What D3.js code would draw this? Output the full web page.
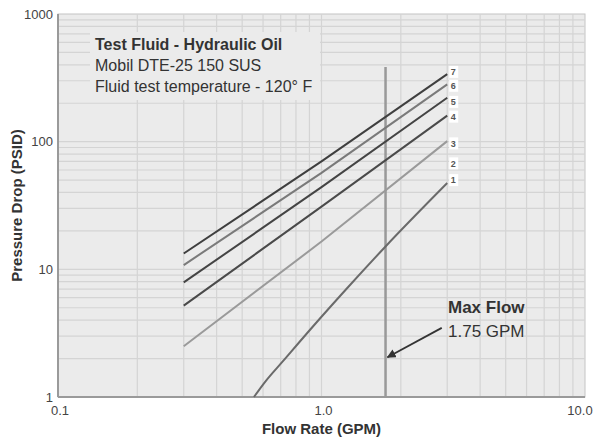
<!DOCTYPE html>
<html>
<head>
<meta charset="utf-8">
<script src="https://cdn.jsdelivr.net/npm/d3@7"></script>
<style>
body { margin: 0; background: #fff; }
svg { display: block; font-family: "Liberation Sans", Arial, sans-serif; }
</style>
</head>
<body>
<div id="chart"></div>
<script>
// curves 3..7 are straight in log-log, read at the end points (and one middle point)
const flow37 = [0.3, 1.0, 3.0];
const curve7 = [13.3, 70, 338];
const curve6 = [10.8, 57, 281];
const curve5 = [7.9, 44, 221];
const curve4 = [5.2, 31, 160];
const curve3 = [2.5, 16.5, 101];

// curve 1 bends, read point by point
const flow1 = [0.554, 0.610, 0.714, 0.953, 1.283, 1.75, 3.0];
const curve1 = [1.0, 1.31, 1.91, 3.80, 7.54, 15.1, 47.4];

const curveNames = ["7", "6", "5", "4", "3", "1"];
const curveColors = ["#3f3f3f", "#7a7a7a", "#444", "#4a4a4a", "#9a9a9a", "#6a6a6a"];

// small number tags at the right end
const tagNames = ["7", "6", "5", "4", "3", "2", "1"];
const tagValues = [352, 274, 205, 157, 97, 67.6, 50];

const xTicks = [0.1, 1, 10];
const xTickLabels = ["0.1", "1.0", "10.0"];
const yTicks = [1, 10, 100, 1000];
const yTickLabels = ["1", "10", "100", "1000"];

const maxFlow = 1.75;
const maxFlowTop = 385;
const arrowFrom = [2.86, 3.48];
const arrowTo = [1.78, 2.05];

const noteLines = ["Test Fluid - Hydraulic Oil", "Mobil DTE-25 150 SUS", "Fluid test temperature - 120\u00b0 F"];

const margin = {top: 14, right: 20, bottom: 43, left: 58},
    width = 605 - margin.left - margin.right,
    height = 440 - margin.top - margin.bottom;

const svg = d3.select("#chart")
    .append("svg")
    .attr("width", 605)
    .attr("height", 440);

const g = svg.append("g")
    .attr("transform", "translate(" + margin.left + "," + margin.top + ")");

const x = d3.scaleLog().domain([0.1, 10]).range([0, width]);
const y = d3.scaleLog().domain([1, 1000]).range([height, 0]);

g.append("rect")
    .attr("width", width)
    .attr("height", height)
    .style("fill", "#ebebeb")
    .style("stroke", "#c4c4c4");

// log grid
const xGrid = x.ticks(20).filter(d => d > 0.1 && d < 10);
const yGrid = y.ticks(30).filter(d => d > 1 && d < 1000);

g.selectAll(".vgrid")
    .data(xGrid)
    .enter().append("line")
    .attr("x1", d => x(d)).attr("x2", d => x(d))
    .attr("y1", 0).attr("y2", height)
    .style("stroke", "#d4d4d4")
    .style("stroke-width", 1.2);

g.selectAll(".hgrid")
    .data(yGrid)
    .enter().append("line")
    .attr("x1", 0).attr("x2", width)
    .attr("y1", d => y(d)).attr("y2", d => y(d))
    .style("stroke", "#d4d4d4")
    .style("stroke-width", 1.2);

// axis lines
g.append("line")
    .attr("x1", 0).attr("x2", 0).attr("y1", 0).attr("y2", height)
    .style("stroke", "#9a9a9a").style("stroke-width", 2);
g.append("line")
    .attr("x1", 0).attr("x2", width).attr("y1", height).attr("y2", height)
    .style("stroke", "#9a9a9a").style("stroke-width", 2);

// note box hides the grid behind the text
g.append("rect")
    .attr("x", 32).attr("y", 18)
    .attr("width", 230).attr("height", 68)
    .style("fill", "#ebebeb");

g.selectAll(".note")
    .data(noteLines)
    .enter().append("text")
    .attr("x", 37)
    .attr("y", (d, i) => 35.5 + i * 21.2)
    .style("font-size", "16px")
    .style("font-weight", (d, i) => i === 0 ? "bold" : "normal")
    .style("fill", "#333")
    .text(d => d);

// max flow line
g.append("line")
    .attr("x1", x(maxFlow)).attr("x2", x(maxFlow))
    .attr("y1", y(maxFlowTop)).attr("y2", height)
    .style("stroke", "#999")
    .style("stroke-width", 2.5);

const line = d3.line()
    .x(d => x(d[0]))
    .y(d => y(d[1]));

const straight = [curve7, curve6, curve5, curve4, curve3];
const series = straight.map(vals => flow37.map((f, i) => [f, vals[i]]));
series.push(flow1.map((f, i) => [f, curve1[i]]));

g.selectAll(".curve")
    .data(series)
    .enter().append("path")
    .attr("d", (d, i) => i === 5 ? line.curve(d3.curveMonotoneX)(d) : line.curve(d3.curveLinear)(d))
    .style("fill", "none")
    .style("stroke", (d, i) => curveColors[i])
    .style("stroke-width", 2);

// tags
const tags = g.selectAll(".tag")
    .data(tagNames)
    .enter().append("g")
    .attr("transform", (d, i) => "translate(" + (x(3.0) + 6) + "," + y(tagValues[i]) + ")");

tags.append("rect")
    .attr("x", -4).attr("y", -6)
    .attr("width", 9).attr("height", 12)
    .style("fill", "#fff");

tags.append("text")
    .attr("text-anchor", "middle")
    .attr("dy", "0.35em")
    .style("font-size", "9px")
    .style("font-weight", "bold")
    .style("fill", "#555")
    .text(d => d);

// arrow
svg.append("defs").append("marker")
    .attr("id", "head")
    .attr("viewBox", "0 0 10 10")
    .attr("refX", 9).attr("refY", 5)
    .attr("markerWidth", 5).attr("markerHeight", 5)
    .attr("orient", "auto")
    .append("path")
    .attr("d", "M0,0L10,5L0,10z")
    .style("fill", "#333");

g.append("line")
    .attr("x1", x(arrowFrom[0])).attr("y1", y(arrowFrom[1]))
    .attr("x2", x(arrowTo[0])).attr("y2", y(arrowTo[1]))
    .style("stroke", "#333")
    .style("stroke-width", 1.8)
    .attr("marker-end", "url(#head)");

g.append("text")
    .attr("x", 390).attr("y", 299)
    .style("font-size", "17px")
    .style("font-weight", "bold")
    .style("fill", "#333")
    .text("Max Flow");

g.append("text")
    .attr("x", 390).attr("y", 323)
    .style("font-size", "17px")
    .style("fill", "#333")
    .text("1.75 GPM");

// tick labels
g.selectAll(".ylab")
    .data(yTicks)
    .enter().append("text")
    .attr("x", -5)
    .attr("y", d => y(d))
    .attr("dy", "0.35em")
    .attr("text-anchor", "end")
    .style("font-size", "13px")
    .style("fill", "#444")
    .text((d, i) => yTickLabels[i]);

g.selectAll(".xlab")
    .data(xTicks)
    .enter().append("text")
    .attr("x", (d, i) => x(d) + (i === 2 ? -5 : 2))
    .attr("y", height + 18)
    .attr("text-anchor", "middle")
    .style("font-size", "13px")
    .style("fill", "#444")
    .text((d, i) => xTickLabels[i]);

svg.append("text")
    .attr("x", margin.left + x(1))
    .attr("y", 434)
    .attr("text-anchor", "middle")
    .style("font-size", "15px")
    .style("font-weight", "bold")
    .style("fill", "#333")
    .text("Flow Rate (GPM)");

svg.append("text")
    .attr("transform", "translate(22," + (margin.top + height / 2) + ") rotate(-90)")
    .attr("text-anchor", "middle")
    .style("font-size", "15px")
    .style("font-weight", "bold")
    .style("fill", "#333")
    .text("Pressure Drop (PSID)");
</script>
</body>
</html>
